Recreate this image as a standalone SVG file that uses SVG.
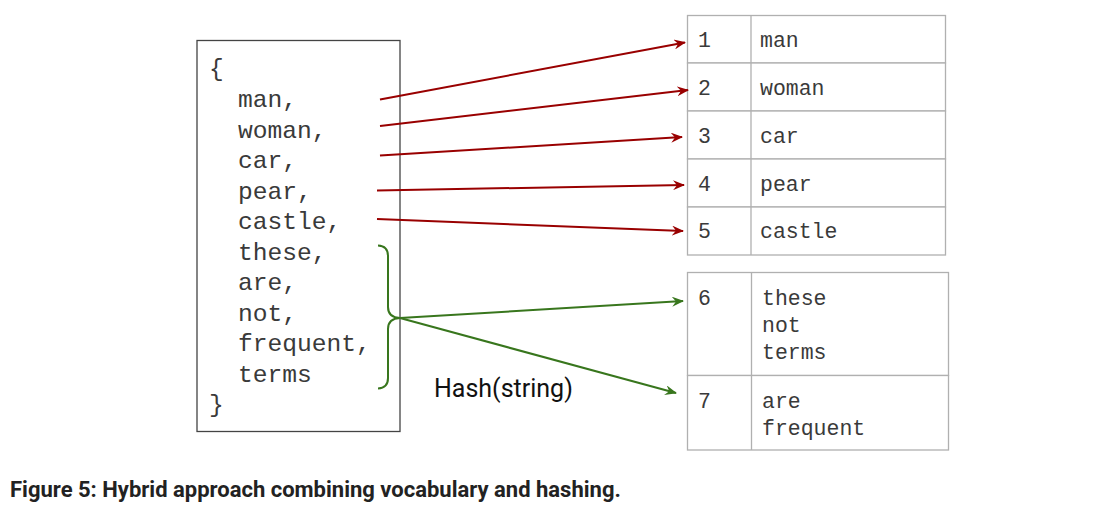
<svg xmlns="http://www.w3.org/2000/svg" width="1115" height="515" viewBox="0 0 1115 515">
<defs>
<style>
.mono{font-family:"Liberation Mono","Courier New",monospace;fill:#3a3a3a;}
.list{font-size:24.6px;}
.tbl{font-size:21.5px;}
.cell{fill:#fff;stroke:#b0b0b0;stroke-width:1.3;}
.red{stroke:#990000;stroke-width:2;fill:none;}
.green{stroke:#38761d;stroke-width:2;fill:none;}
</style>
<marker id="ar" viewBox="0 0 12 10" refX="11" refY="5" markerWidth="12" markerHeight="10" markerUnits="userSpaceOnUse" orient="auto">
<path d="M0,0 L12,5 L0,10 L4,5 Z" fill="#990000"/>
</marker>
<marker id="ag" viewBox="0 0 12 10" refX="11" refY="5" markerWidth="12" markerHeight="10" markerUnits="userSpaceOnUse" orient="auto">
<path d="M0,0 L12,5 L0,10 L4,5 Z" fill="#38761d"/>
</marker>
</defs>
<rect width="1115" height="515" fill="#fff"/>

<g id="list">
<rect x="197" y="40.5" width="203" height="391" fill="#fff" stroke="#444" stroke-width="1.3"/>
<text class="mono list" x="209" y="76">{</text>
<text class="mono list" x="238" y="107">man,</text>
<text class="mono list" x="238" y="137.5">woman,</text>
<text class="mono list" x="238" y="168">car,</text>
<text class="mono list" x="238" y="198.5">pear,</text>
<text class="mono list" x="238" y="229">castle,</text>
<text class="mono list" x="238" y="259.5">these,</text>
<text class="mono list" x="238" y="290">are,</text>
<text class="mono list" x="238" y="320.5">not,</text>
<text class="mono list" x="238" y="351">frequent,</text>
<text class="mono list" x="238" y="381.5">terms</text>
<text class="mono list" x="209" y="412">}</text>
</g>

<g id="vocab">
<rect class="cell" x="687.5" y="15.5" width="258" height="47.5"/>
<rect class="cell" x="687.5" y="63" width="258" height="48"/>
<rect class="cell" x="687.5" y="111" width="258" height="48"/>
<rect class="cell" x="687.5" y="159" width="258" height="48"/>
<rect class="cell" x="687.5" y="207" width="258" height="48"/>
<line x1="751" y1="15.5" x2="751" y2="255" stroke="#b0b0b0" stroke-width="1.3"/>
<text class="mono tbl" x="698" y="47">1</text><text class="mono tbl" x="760" y="47">man</text>
<text class="mono tbl" x="698" y="95">2</text><text class="mono tbl" x="760" y="95">woman</text>
<text class="mono tbl" x="698" y="143">3</text><text class="mono tbl" x="760" y="143">car</text>
<text class="mono tbl" x="698" y="191">4</text><text class="mono tbl" x="760" y="191">pear</text>
<text class="mono tbl" x="698" y="238">5</text><text class="mono tbl" x="760" y="238">castle</text>
</g>

<g id="hash">
<rect class="cell" x="687.5" y="272.5" width="261" height="103"/>
<rect class="cell" x="687.5" y="375.5" width="261" height="74.5"/>
<line x1="751.5" y1="272.5" x2="751.5" y2="450" stroke="#b0b0b0" stroke-width="1.3"/>
<text class="mono tbl" x="698" y="305">6</text>
<text class="mono tbl" x="762" y="305">these</text>
<text class="mono tbl" x="762" y="332">not</text>
<text class="mono tbl" x="762" y="359">terms</text>
<text class="mono tbl" x="698" y="408">7</text>
<text class="mono tbl" x="762" y="408">are</text>
<text class="mono tbl" x="762" y="435">frequent</text>
</g>

<g id="connectors">
<line class="red" x1="380" y1="99.5" x2="685" y2="42.5" marker-end="url(#ar)"/>
<line class="red" x1="380" y1="126" x2="688" y2="90" marker-end="url(#ar)"/>
<line class="red" x1="380" y1="155.5" x2="682" y2="137" marker-end="url(#ar)"/>
<line class="red" x1="377" y1="190.5" x2="684" y2="185" marker-end="url(#ar)"/>
<line class="red" x1="377" y1="219" x2="683" y2="231" marker-end="url(#ar)"/>
<path class="green" stroke-width="2.5" d="M378,245.5 Q388,246 388,256 L388,307 Q388,317.5 400,318 Q388,318.5 388,329 L388,378 Q388,388 378,388.5"/>
<line class="green" x1="400" y1="318" x2="683" y2="301" marker-end="url(#ag)"/>
<line class="green" x1="400" y1="318" x2="676" y2="393" marker-end="url(#ag)"/>
</g>

<text x="434" y="397" font-family="Roboto,'Liberation Sans',sans-serif" font-size="25" fill="#111">Hash(string)</text>
<text x="10" y="497" font-family="Roboto,'Liberation Sans',sans-serif" font-size="22" font-weight="bold" fill="#222">Figure 5: Hybrid approach combining vocabulary and hashing.</text>
</svg>
